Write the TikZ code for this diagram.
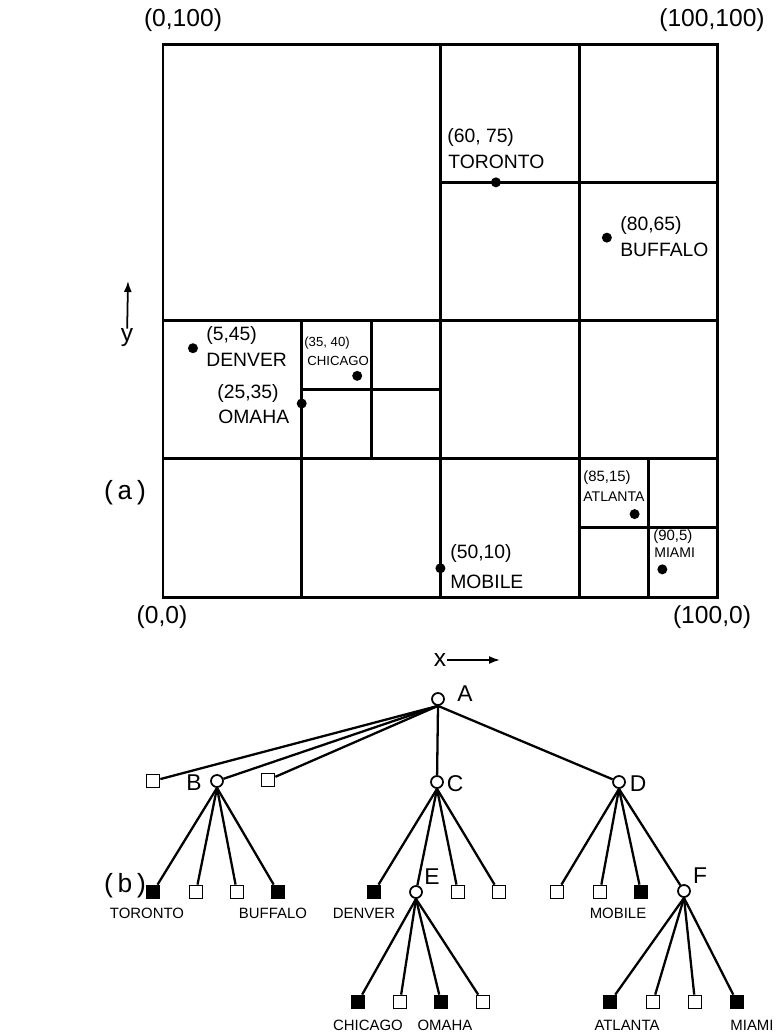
\documentclass[tikz,border=0pt]{standalone}
\usepackage{fontspec}
\setmainfont{Liberation Sans}
\newfontfamily\typefont{Liberation Mono}
\usetikzlibrary{arrows.meta}

\begin{document}
\begin{tikzpicture}[
  x=0.02cm, y=-0.02cm,
  cell/.style={line width=1.7pt},
  city/.style={circle, fill=black, inner sep=0pt, minimum size=0.2cm},
  coordtxt/.style={font=\fontsize{11}{11}\selectfont, anchor=west, inner sep=0pt},
  smalltxt/.style={font=\fontsize{7.5}{7.5}\selectfont, anchor=west, inner sep=0pt},
  corner/.style={font=\fontsize{14}{14}\selectfont, inner sep=0pt},
  knot/.style={draw, circle, line width=1pt, fill=white, inner sep=0pt, minimum size=0.24cm},
  nilleaf/.style={draw, rectangle, line width=1pt, fill=white, inner sep=0pt, minimum size=0.26cm},
  ptleaf/.style={draw, rectangle, line width=1pt, fill=black, inner sep=0pt, minimum size=0.26cm},
  letter/.style={font=\fontsize{13}{13}\selectfont, inner sep=0pt},
  leaf/.style={font=\fontsize{8.5}{8.5}\selectfont, inner sep=0pt},
  link/.style={line width=1.3pt},
  axarr/.style={line width=1pt, -{Latex[length=2.2mm, width=1.6mm]}},
  part/.style={font=\typefont\fontsize{15}{15}\selectfont, inner sep=0pt}
]
\useasboundingbox (0,0) rectangle (776,1035);

\begin{scope}[shift={(163,597)}, x=0.111cm, y=0.1106cm]
\draw[cell] (0,0) rectangle (100,100);
\draw[cell] (50,0) -- (50,100);
\draw[cell] (0,50) -- (100,50);
\draw[cell] (75,0) -- (75,100);
\draw[cell] (0,25) -- (100,25);
\draw[cell] (50,75) -- (100,75);
\draw[cell] (25,0) -- (25,50);
\draw[cell] (37.5,25) -- (37.5,50);
\draw[cell] (25,37.5) -- (50,37.5);
\draw[cell] (87.5,0) -- (87.5,25);
\draw[cell] (75,12.5) -- (100,12.5);

\node[city] (toronto) at (60,75) {};
\node[city] (buffalo) at (80,65) {};
\node[city] (denver) at (5.4,45) {};
\node[city] (chicago) at (35,40) {};
\node[city] (omaha) at (25,35) {};
\node[city] (mobile) at (50,5.2) {};
\node[city] (atlanta) at (85,15) {};
\node[city] (miami) at (90,5) {};
\end{scope}

\node[corner] (c01) at (183,20) {(0,100)};
\node[corner] (c11) at (712,20) {(100,100)};
\node[corner] (c00) at (162,617) {(0,0)};
\node[corner] (c10) at (712,617) {(100,0)};

\node[coordtxt] (torxy) at (447,137) {(60, 75)};
\node[coordtxt] (tortx) at (448,162) {TORONTO};
\node[coordtxt] (bufxy) at (620,225) {(80,65)};
\node[coordtxt] (buftx) at (620,250) {BUFFALO};
\node[coordtxt] (denxy) at (206,335) {(5,45)};
\node[coordtxt] (dentx) at (206,360) {DENVER};
\node[smalltxt] (chixy) at (304,343) {(35, 40)};
\node[smalltxt] (chitx) at (307,361) {CHICAGO};
\node[coordtxt] (omaxy) at (217,393) {(25,35)};
\node[coordtxt] (omatx) at (218,417) {OMAHA};
\node[coordtxt] (mobxy) at (450,553) {(50,10)};
\node[coordtxt] (mobtx) at (450,582) {MOBILE};
\node[smalltxt, font=\fontsize{8.5}{8.5}\selectfont] (atlxy) at (583,478) {(85,15)};
\node[smalltxt, font=\fontsize{8}{8}\selectfont] (atltx) at (583,497) {ATLANTA};
\node[smalltxt, font=\fontsize{8.5}{8.5}\selectfont] (miaxy) at (653,537) {(90,5)};
\node[smalltxt, font=\fontsize{8}{8}\selectfont] (miatx) at (654,553) {MIAMI};

\node[corner] (ylab) at (127,338) {y};
\coordinate (ytip) at (128,281);
\draw[axarr] (ylab) -- (ytip);
\node[corner] (xlab) at (440,660) {x};
\coordinate (xtip) at (500,660);
\draw[axarr] (xlab) -- (xtip);

\node[part] (pa) at (125,493) {(a)};
\node[part] (pb) at (125,886) {(b)};

\node[knot] (A) at (438,699) {};
\node[letter] (Alab) at (465,694) {A};

\node[nilleaf] (q1) at (153,781) {};
\node[knot] (B) at (217,781) {};
\node[letter] (Blab) at (194,783) {B};
\node[nilleaf] (q2) at (268,780) {};
\node[knot] (C) at (437,782) {};
\node[letter] (Clab) at (455,784) {C};
\node[knot] (D) at (619,782) {};
\node[letter] (Dlab) at (638,784) {D};

\draw[link] (A.south) -- (q1);
\draw[link] (A.south) -- (B);
\draw[link] (A.south) -- (q2);
\draw[link] (A.south) -- (C);
\draw[link] (A.south) -- (D);

\node[ptleaf] (b1) at (153,892) {};
\node[nilleaf] (b2) at (196,892) {};
\node[nilleaf] (b3) at (237,892) {};
\node[ptleaf] (b4) at (278,892) {};
\node[ptleaf] (c1) at (374,892) {};
\node[knot] (E) at (416,892) {};
\node[letter] (Elab) at (432,877) {E};
\node[nilleaf] (c3) at (458,892) {};
\node[nilleaf] (c4) at (499,892) {};
\node[nilleaf] (d1) at (557,892) {};
\node[nilleaf] (d2) at (600,892) {};
\node[ptleaf] (d3) at (641,892) {};
\node[knot] (F) at (684,891) {};
\node[letter] (Flab) at (700,876) {F};

\draw[link] (B.south) -- (b1);
\draw[link] (B.south) -- (b2);
\draw[link] (B.south) -- (b3);
\draw[link] (B.south) -- (b4);
\draw[link] (C.south) -- (c1);
\draw[link] (C.south) -- (E);
\draw[link] (C.south) -- (c3);
\draw[link] (C.south) -- (c4);
\draw[link] (D.south) -- (d1);
\draw[link] (D.south) -- (d2);
\draw[link] (D.south) -- (d3);
\draw[link] (D.south) -- (F);

\node[leaf] (b1tx) at (147,913) {TORONTO};
\node[leaf] (b4tx) at (273,913) {BUFFALO};
\node[leaf] (c1tx) at (364,913) {DENVER};
\node[leaf] (d3tx) at (618,913) {MOBILE};

\node[ptleaf] (e1) at (358,1002) {};
\node[nilleaf] (e2) at (400,1002) {};
\node[ptleaf] (e3) at (441,1002) {};
\node[nilleaf] (e4) at (483,1002) {};
\node[ptleaf] (f1) at (610,1002) {};
\node[nilleaf] (f2) at (653,1002) {};
\node[nilleaf] (f3) at (695,1002) {};
\node[ptleaf] (f4) at (737,1002) {};

\draw[link] (E.south) -- (e1);
\draw[link] (E.south) -- (e2);
\draw[link] (E.south) -- (e3);
\draw[link] (E.south) -- (e4);
\draw[link] (F.south) -- (f1);
\draw[link] (F.south) -- (f2);
\draw[link] (F.south) -- (f3);
\draw[link] (F.south) -- (f4);

\node[leaf] (e1tx) at (368,1025) {CHICAGO};
\node[leaf] (e3tx) at (445,1025) {OMAHA};
\node[leaf] (f1tx) at (627,1025) {ATLANTA};
\node[leaf] (f4tx) at (752,1025) {MIAMI};
\end{tikzpicture}
\end{document}
